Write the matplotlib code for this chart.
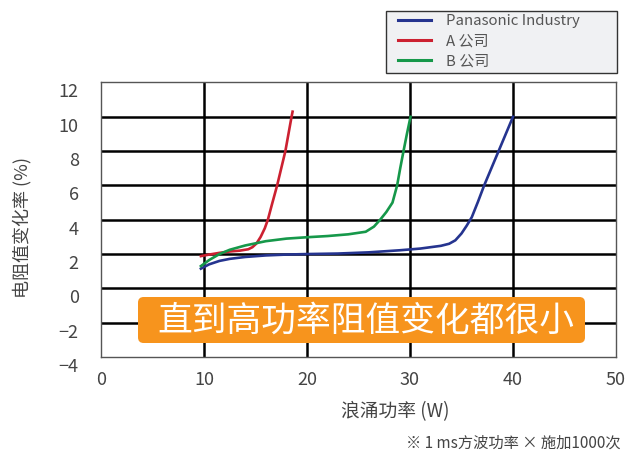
import matplotlib
matplotlib.use('Agg')
import matplotlib.pyplot as plt
from matplotlib.patches import FancyBboxPatch, Rectangle
from matplotlib.lines import Line2D
import matplotlib.transforms as mtransforms

plt.rcParams['font.family'] = ['Noto Sans CJK SC', 'DejaVu Sans']

# 数据
pana_x = [9.7, 10.5, 11.5, 12.5, 14, 16, 18, 20, 23, 26, 29, 31, 33, 33.8, 34.4, 35.0, 35.5, 36.0, 36.6, 37.2, 37.9, 38.6, 39.3, 40]
pana_y = [1.15, 1.4, 1.6, 1.72, 1.83, 1.92, 1.97, 2.0, 2.03, 2.1, 2.22, 2.32, 2.48, 2.6, 2.8, 3.2, 3.65, 4.15, 5.05, 6.0, 7.0, 8.0, 9.0, 10.0]

a_x = [9.7, 10.5, 11.5, 12.5, 13.5, 14.3, 14.7, 15.1, 15.5, 15.9, 16.2, 16.6, 17.1, 17.5, 17.9, 18.2, 18.5, 18.6]
a_y = [1.88, 1.97, 2.07, 2.15, 2.2, 2.28, 2.4, 2.62, 3.0, 3.5, 4.0, 4.9, 6.0, 7.0, 8.0, 9.0, 10.0, 10.3]

b_x = [9.7, 10.5, 11.5, 12.5, 14, 16, 18, 20, 22, 24, 25.7, 26.5, 27.1, 27.7, 28.3, 28.75, 29.05, 29.37, 29.7, 30.05]
b_y = [1.3, 1.65, 2.0, 2.25, 2.5, 2.75, 2.9, 2.98, 3.05, 3.15, 3.3, 3.6, 4.0, 4.45, 5.0, 6.0, 7.0, 8.0, 9.0, 10.0]

labels = ['Panasonic Industry', 'A 公司', 'B 公司']
colors = ['#25348f', '#cc2131', '#16984a']
x_ticks = [0, 10, 20, 30, 40, 50]
y_ticks = [-4, -2, 0, 2, 4, 6, 8, 10, 12]

fig = plt.figure(figsize=(6.25, 4.55), dpi=100)
ax = fig.add_axes([0.1616, 0.2154, 0.8240, 0.6033])

ax.set_xlim(0, 50)
ax.set_ylim(-4, 12)
ax.set_xticks(x_ticks)
ax.set_yticks(y_ticks)
ax.set_yticklabels([str(v).replace('-', '\u2212') for v in y_ticks])

# 内部网格线
for v in x_ticks[1:-1]:
    ax.axvline(v, color='black', lw=1.8, zorder=1)
for v in y_ticks[1:-1]:
    ax.axhline(v, color='black', lw=1.8, zorder=1)

for s in ax.spines.values():
    s.set_color('#555555')
    s.set_linewidth(1.0)

ax.tick_params(length=0, labelsize=13, colors='#444444')
ax.tick_params(axis='y', pad=16)
ax.tick_params(axis='x', pad=10)
off = mtransforms.ScaledTranslation(0, -0.08, fig.dpi_scale_trans)
for lab in ax.get_yticklabels():
    lab.set_transform(lab.get_transform() + off)

ax.plot(pana_x, pana_y, color=colors[0], lw=1.9, zorder=3)
ax.plot(a_x, a_y, color=colors[1], lw=1.9, zorder=3)
ax.plot(b_x, b_y, color=colors[2], lw=1.9, zorder=3)

ax.set_ylabel('电阻值变化率 (%)', fontsize=13, color='#444444')
ax.yaxis.set_label_coords(-0.135, 0.47)
fig.text(395 / 625, 1 - 412 / 455, '浪涌功率 (W)', fontsize=13.5, color='#444444',
         ha='center', va='center')

# 图注（外框单独画）
frame = Rectangle((386 / 625, 1 - 73 / 455), 231 / 625, 62 / 455,
                  transform=fig.transFigure, facecolor='#f0f1f3',
                  edgecolor='#333333', lw=1.0, zorder=0)
fig.patches.append(frame)
handles = [Line2D([], [], color=c, lw=2.2) for c in colors]
leg = fig.legend(handles, labels, loc='upper left',
                 bbox_to_anchor=(398 / 625, 1 - 14 / 455),
                 fontsize=10.8, frameon=False,
                 handlelength=2.2, handletextpad=1.0, labelspacing=0.42,
                 borderpad=0.0, borderaxespad=0)
for t in leg.get_texts():
    t.set_color('#555555')

# 橙色标签
bx0, by0, bx1, by1 = 138 / 625, 1 - 343 / 455, 585 / 625, 1 - 297 / 455
box = FancyBboxPatch((bx0, by0), bx1 - bx0, by1 - by0,
                     boxstyle='round,pad=0,rounding_size=0.009',
                     mutation_aspect=625 / 455,
                     transform=fig.transFigure, facecolor='#f7941d',
                     edgecolor='none', zorder=5)
fig.patches.append(box)
fig.text(366 / 625, 1 - 321 / 455, '直到高功率阻值变化都很小', fontsize=25,
         color='white', ha='center', va='center', zorder=6)

fig.text(621 / 625, 1 - 443 / 455, '※ 1 ms方波功率 × 施加1000次', fontsize=11,
         color='#444444', ha='right', va='center')

fig.savefig('out.png', dpi=100)
plt.close(fig)
